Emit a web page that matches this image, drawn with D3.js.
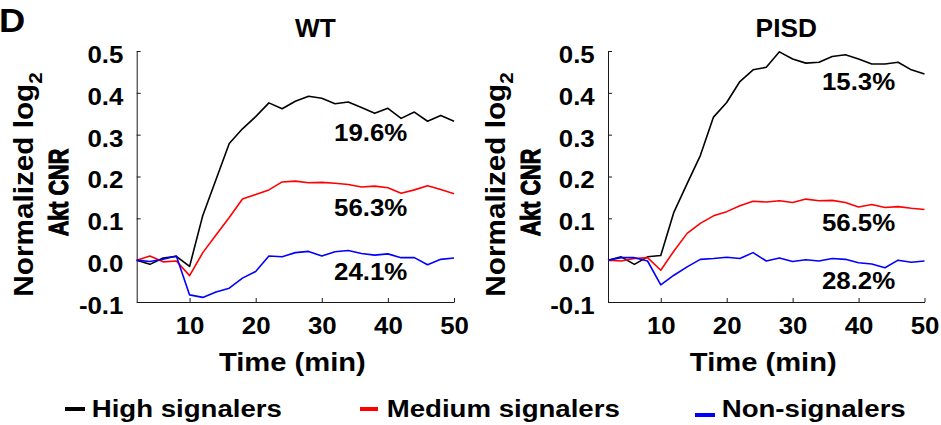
<!DOCTYPE html>
<html>
<head>
<meta charset="utf-8">
<script src="https://cdn.jsdelivr.net/npm/d3@7"></script>
<style>
  body { margin: 0; background: #fff; }
  text { font-family: "Liberation Sans", Arial, sans-serif; font-weight: bold; fill: #000; }
</style>
</head>
<body>
<script>
// time points (min)
const times = [2, 4, 6, 8, 10, 12, 14, 16, 18, 20, 22, 24, 26, 28, 30, 32, 34, 36, 38, 40, 42, 44, 46, 48, 50];

// WT
const wtHigh = [0.000, -0.010, 0.005, 0.009, -0.015, 0.107, 0.193, 0.279, 0.314, 0.343, 0.376, 0.362, 0.380,
  0.392, 0.387, 0.374, 0.378, 0.365, 0.351, 0.363, 0.339, 0.354, 0.332, 0.346, 0.332];
const wtMedium = [0.000, 0.010, -0.004, -0.002, -0.037, 0.018, 0.060, 0.102, 0.146, 0.157, 0.168, 0.187, 0.189,
  0.185, 0.186, 0.184, 0.181, 0.175, 0.177, 0.173, 0.160, 0.168, 0.178, 0.169, 0.159];
const wtNon = [0.000, -0.003, 0.002, 0.010, -0.083, -0.089, -0.076, -0.067, -0.043, -0.027, 0.010, 0.008, 0.018,
  0.021, 0.010, 0.020, 0.023, 0.016, 0.012, 0.015, 0.006, 0.006, -0.011, 0.002, 0.005];
const wtPercent = ['19.6%', '56.3%', '24.1%'];

// PISD
const pisdHigh = [0.000, 0.008, -0.010, 0.008, 0.011, 0.115, 0.183, 0.250, 0.342, 0.377, 0.427, 0.455, 0.461,
  0.498, 0.481, 0.471, 0.473, 0.487, 0.491, 0.481, 0.469, 0.469, 0.473, 0.455, 0.445];
const pisdMedium = [0.000, -0.002, 0.004, 0.006, -0.024, 0.022, 0.064, 0.088, 0.106, 0.116, 0.130, 0.141, 0.139,
  0.142, 0.138, 0.146, 0.142, 0.143, 0.138, 0.127, 0.133, 0.126, 0.128, 0.124, 0.121];
const pisdNon = [0.000, 0.006, 0.006, -0.002, -0.059, -0.036, -0.016, 0.002, 0.004, 0.007, 0.004, 0.018, -0.002,
  0.005, -0.003, 0.001, -0.002, 0.004, 0.002, -0.006, -0.009, -0.018, 0.000, -0.005, -0.002];
const pisdPercent = ['15.3%', '56.5%', '28.2%'];

const seriesNames = ['High signalers', 'Medium signalers', 'Non-signalers'];
const seriesColors = ['#000000', '#ff0000', '#0000ff'];
const yTicks = [-0.1, 0.0, 0.1, 0.2, 0.3, 0.4, 0.5];
const xTicks = [10, 20, 30, 40, 50];

function stext(parent, x, y, str, size, sx, anchor) {
  return parent.append('text')
    .attr('transform', `translate(${x},${y}) scale(${sx},1)`)
    .attr('text-anchor', anchor || 'start')
    .style('font-size', size + 'px')
    .text(str);
}

function main() {
  const width = 941;
  const height = 425;
  const svg = d3.select('body').append('svg')
    .attr('width', width)
    .attr('height', height);

  const panels = [
    { title: 'WT', series: [wtHigh, wtMedium, wtNon], percent: wtPercent,
      left: 136.7, right: 454, pctTime: 37.4, pctVal: [0.284, 0.105, -0.047] },
    { title: 'PISD', series: [pisdHigh, pisdMedium, pisdNon], percent: pisdPercent,
      left: 608, right: 924.5, pctTime: 40.0, pctVal: [0.407, 0.070, -0.069] },
  ];

  const y = d3.scaleLinear().domain([-0.1, 0.5]).range([302, 51]);

  stext(svg, -1, 32, 'D', 33, 1.1);

  panels.forEach(p => {
    const x = d3.scaleLinear().domain([2, 50]).range([p.left, p.right]);
    const g = svg.append('g');

    // y axis
    const gy = g.append('g')
      .attr('transform', `translate(${p.left},0)`)
      .call(d3.axisLeft(y).tickValues(yTicks).tickSize(-4).tickSizeOuter(0).tickFormat(d => d.toFixed(1)))
      .attr('font-size', null).attr('font-family', null);
    gy.selectAll('text')
      .attr('x', null).attr('dy', null)
      .attr('transform', 'translate(-13.3,11.4) scale(1.1,1)')
      .style('font-size', '23.5px');

    // x axis
    const gx = g.append('g')
      .attr('transform', `translate(0,${y(-0.1)})`)
      .call(d3.axisBottom(x).tickValues(xTicks).tickSize(-4).tickSizeOuter(0))
      .attr('font-size', null).attr('font-family', null);
    gx.selectAll('text')
      .attr('y', null).attr('dy', null)
      .attr('transform', 'translate(0,32) scale(1.1,1)')
      .style('font-size', '23.5px');

    g.selectAll('.domain, .tick line').attr('stroke', '#1a1a1a').attr('stroke-width', 1);

    // lines
    const line = d3.line().x((d, i) => x(times[i])).y(d => y(d));
    g.append('g')
      .selectAll('path')
      .data(p.series)
      .enter()
      .append('path')
      .attr('d', line)
      .attr('fill', 'none')
      .attr('stroke', (d, i) => seriesColors[i])
      .attr('stroke-width', 1.6)
      .attr('stroke-linejoin', 'round');

    // percentages
    p.percent.forEach((s, i) => {
      stext(g, x(p.pctTime), y(p.pctVal[i]), s, 23.5, 1.1, 'middle');
    });

    // title
    stext(g, (p.left + p.right) / 2 + 20, 36.5, p.title, 25, 1.05, 'middle');

    // x label
    stext(g, (p.left + p.right) / 2 - 3, 371, 'Time (min)', 26.5, 1.1, 'middle');

    // y label
    const yl = g.append('g')
      .attr('transform', `translate(${p.left - 103.3},188) rotate(-90)`);
    const t1 = yl.append('text')
      .attr('transform', 'translate(3.5,0) scale(1.1,1)')
      .attr('text-anchor', 'middle')
      .style('font-size', '27px');
    t1.append('tspan').text('Normalized log');
    t1.append('tspan').attr('dy', 8.7).style('font-size', '18.7px').text('2');
    // second line is squeezed in the figure, thicken strokes to keep it bold
    yl.append('text')
      .attr('transform', 'translate(-4.5,35) scale(0.8,1)')
      .attr('text-anchor', 'middle')
      .style('font-size', '27px')
      .attr('stroke', '#000')
      .attr('stroke-width', 1.1)
      .text('Akt CNR');
  });

  // legend
  const legendX = [65, 360, 695];
  const legendW = [20, 18, 20];
  const legendY = [409, 409, 415];
  const leg = svg.append('g');
  seriesNames.forEach((name, i) => {
    leg.append('rect')
      .attr('x', legendX[i])
      .attr('y', legendY[i] - 2)
      .attr('width', legendW[i])
      .attr('height', 4)
      .attr('fill', seriesColors[i]);
    stext(leg, legendX[i] + 26.7, 416.7, name, 23.5, 1.175);
  });
}

main();
</script>
</body>
</html>
